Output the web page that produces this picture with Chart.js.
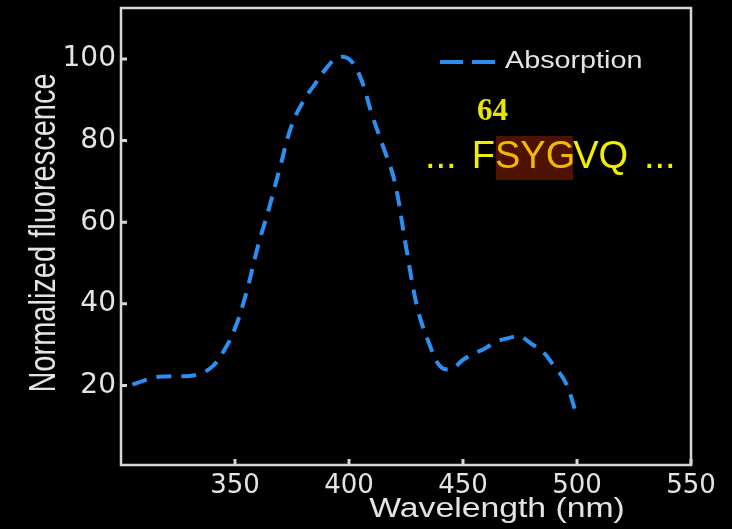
<!DOCTYPE html>
<html>
<head>
<meta charset="utf-8">
<title>Absorption spectrum</title>
<script src="https://cdn.jsdelivr.net/npm/chart.js@4/dist/chart.umd.min.js"></script>
<style>
  html, body { margin: 0; padding: 0; background: #000; }
  #wrap { width: 732px; height: 529px; }
</style>
</head>
<body>
<div id="wrap"><canvas id="chart" width="732" height="529"></canvas></div>
<script>
// Wavelength (nm) and normalized absorption
const wavelengths = [305, 310, 315, 320, 325, 330, 335, 340, 345, 350, 355, 360, 365, 370, 375, 380, 385, 390, 395, 400,
                     405, 410, 415, 420, 425, 430, 435, 440, 445, 450, 455, 460, 465, 470, 475, 480, 485, 490, 495, 500];
const absorption = [20.2, 21.2, 22.0, 22.2, 22.3, 22.3, 23.0, 24.6, 28.4, 34.0, 42.8, 54.0, 63.6, 74.0, 84.0, 89.7, 93.8, 97.7, 100.3, 100.0,
                    95.5, 86.5, 78.5, 70.0, 54.0, 39.0, 30.5, 24.7, 24.0, 26.3, 27.8, 29.2, 30.8, 31.6, 32.0, 30.2, 28.3, 24.7, 20.7, 12.5];
const xTicks = [350, 400, 450, 500, 550];
const yTicks = [20, 40, 60, 80, 100];
const seriesLabel = 'Absorption';
const xTitle = 'Wavelength (nm)';
const yTitle = 'Normalized fluorescence';
const residueNumber = '64';
const seqBefore = 'F';
const seqChromophore = 'SYG';
const seqAfter = 'VQ';

const LINE_COLOR = '#2b8ef0';
const FRAME_COLOR = '#d6d6d6';
const TEXT_COLOR = '#e4e4e4';
const TEXT_STRETCH = 1.25;

// Draws text widened horizontally
function stretchedText(ctx, text, x, y, sx, align) {
  ctx.save();
  ctx.translate(x, y);
  ctx.scale(sx, 1);
  ctx.textAlign = align || 'left';
  ctx.fillText(text, 0, 0);
  ctx.restore();
}

const framePlugin = {
  id: 'frameAndNotes',
  afterDraw(chart) {
    const ctx = chart.ctx;
    const a = chart.chartArea;
    const xs = chart.scales.x, ys = chart.scales.y;
    ctx.save();
    // box around the plot
    ctx.strokeStyle = FRAME_COLOR;
    ctx.lineWidth = 2.5;
    ctx.setLineDash([]);
    ctx.strokeRect(a.left, a.top, a.right - a.left, a.bottom - a.top);
    // inward tick marks
    ctx.lineWidth = 3;
    ctx.beginPath();
    xs.ticks.forEach(t => {
      const px = xs.getPixelForValue(t.value);
      ctx.moveTo(px, a.bottom);
      ctx.lineTo(px, a.bottom - 6);
    });
    ys.ticks.forEach(t => {
      const py = ys.getPixelForValue(t.value);
      ctx.moveTo(a.left, py);
      ctx.lineTo(a.left + 6, py);
    });
    ctx.stroke();

    // axis titles
    ctx.fillStyle = TEXT_COLOR;
    ctx.textBaseline = 'alphabetic';
    ctx.font = '27px "Liberation Sans", Arial, sans-serif';
    stretchedText(ctx, xTitle, 497, 517, TEXT_STRETCH, 'center');
    ctx.save();
    ctx.font = '29px "Liberation Sans", Arial, sans-serif';
    ctx.translate(55, 233);
    ctx.scale(1.3, 1);
    ctx.rotate(-Math.PI / 2);
    ctx.textAlign = 'center';
    ctx.fillText(yTitle, 0, 0);
    ctx.restore();

    // legend
    const ds = chart.data.datasets[0];
    ctx.strokeStyle = ds.borderColor;
    ctx.lineWidth = ds.borderWidth;
    ctx.setLineDash([23, 9]);
    ctx.beginPath();
    ctx.moveTo(440, 62);
    ctx.lineTo(497, 62);
    ctx.stroke();
    ctx.setLineDash([]);
    ctx.fillStyle = TEXT_COLOR;
    ctx.font = '23px "Liberation Sans", Arial, sans-serif';
    stretchedText(ctx, ds.label, 505, 68, TEXT_STRETCH, 'left');

    // chromophore sequence note
    ctx.fillStyle = '#e8e400';
    ctx.font = 'bold 31px "Liberation Serif", "Times New Roman", serif';
    ctx.textAlign = 'left';
    ctx.fillText(residueNumber, 477, 120);

    ctx.font = '38px "Liberation Sans", Arial, sans-serif';
    const base = 168;
    const fW = ctx.measureText(seqBefore).width;
    const sygW = ctx.measureText(seqChromophore).width;
    const sygX = 495;
    ctx.fillStyle = '#4e1200';
    ctx.fillRect(sygX + 1, 136, 77, 44);
    ctx.fillStyle = '#f2f000';
    ctx.fillText('...', 425, base);
    ctx.fillText(seqBefore, sygX - fW, base);
    ctx.fillStyle = '#f3b800';
    ctx.fillText(seqChromophore, sygX, base);
    ctx.fillStyle = '#f2f000';
    ctx.fillText(seqAfter, sygX + sygW - 2, base);
    ctx.fillText('...', 644, base);
    ctx.restore();
  }
};

function noScalePadding(s) {
  s.paddingTop = 0;
  s.paddingBottom = 0;
  s.paddingLeft = 0;
  s.paddingRight = 0;
}

new Chart(document.getElementById('chart'), {
  type: 'line',
  data: {
    datasets: [{
      label: seriesLabel,
      data: wavelengths.map((w, i) => ({ x: w, y: absorption[i] })),
      borderColor: LINE_COLOR,
      borderWidth: 4,
      borderDash: [15, 10],
      borderCapStyle: 'butt',
      pointRadius: 0,
      tension: 0.4,
      fill: false
    }]
  },
  options: {
    responsive: false,
    animation: false,
    devicePixelRatio: 1,
    layout: { padding: { top: 8, right: 41, left: 0, bottom: 0 } },
    plugins: { legend: { display: false }, tooltip: { enabled: false } },
    scales: {
      x: {
        type: 'linear',
        min: 300,
        max: 550,
        grid: { display: false, drawTicks: false },
        border: { display: false },
        afterBuildTicks: s => { s.ticks = xTicks.map(v => ({ value: v })); },
        afterFit: s => { s.height = 64; noScalePadding(s); },
        ticks: {
          color: TEXT_COLOR,
          padding: 6,
          maxRotation: 0,
          font: { family: '"DejaVu Sans", sans-serif', size: 26 }
        }
      },
      y: {
        min: 0.5,
        max: 112.5,
        grid: { display: false, drawTicks: false },
        border: { display: false },
        afterBuildTicks: s => { s.ticks = yTicks.map(v => ({ value: v })); },
        afterFit: s => { s.width = 121; noScalePadding(s); },
        ticks: {
          color: TEXT_COLOR,
          padding: 5,
          font: { family: '"DejaVu Sans", sans-serif', size: 28 }
        }
      }
    }
  },
  plugins: [framePlugin]
});
</script>
</body>
</html>
